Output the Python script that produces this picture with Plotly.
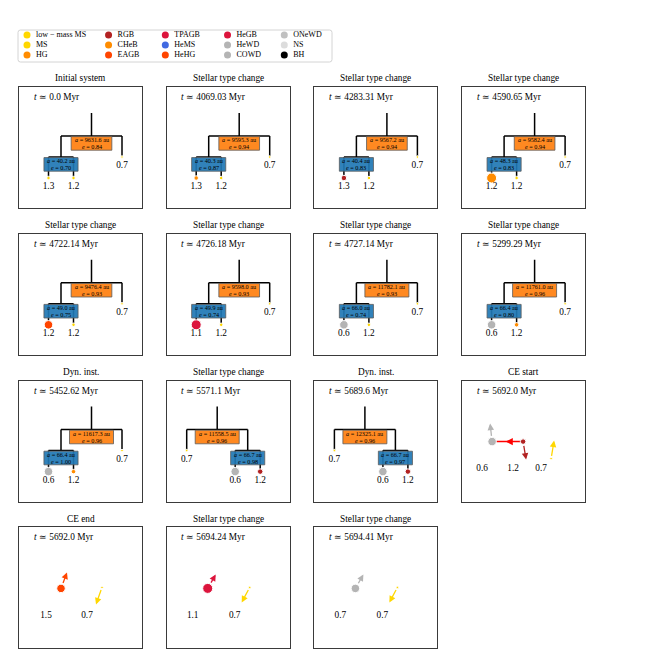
import plotly.graph_objects as go

# ---------------- data ----------------
LMS = "low − mass MS"

STELLAR_TYPES = [LMS, "MS", "HG", "RGB", "CHeB", "EAGB", "TPAGB", "HeMS",
                 "HeHG", "HeGB", "HeWD", "COWD", "ONeWD", "NS", "BH"]
TYPE_COLORS = ["#ffd700", "#ffd700", "#ff8c00", "#b22222", "#ff8c00", "#ff4500",
               "#dc143c", "#4169e1", "#ff4500", "#dc143c", "#b4b4b4", "#b4b4b4",
               "#c0c0c0", "#dcdcdc", "#000000"]

TITLES = ["Initial system", "Stellar type change", "Stellar type change", "Stellar type change",
          "Stellar type change", "Stellar type change", "Stellar type change", "Stellar type change",
          "Dyn. inst.", "Stellar type change", "Dyn. inst.", "CE start",
          "CE end", "Stellar type change", "Stellar type change"]
TIMES_MYR = [0.0, 4069.03, 4283.31, 4590.65, 4722.14, 4726.18, 4727.14, 5299.29,
             5452.62, 5571.1, 5689.6, 5692.0, 5692.0, 5694.24, 5694.41]

# hierarchical snapshots (first 11 panels)
OUTER_A = [9631.6, 9595.3, 9567.2, 9582.4, 9476.4, 9598.0, 11782.1, 11761.0, 11617.3, 11558.5, 12325.1]
OUTER_E = [0.84, 0.94, 0.94, 0.94, 0.93, 0.93, 0.93, 0.96, 0.96, 0.96, 0.96]
INNER_A = [40.2, 40.3, 40.4, 48.3, 49.0, 49.9, 66.0, 66.4, 66.4, 66.7, 66.7]
INNER_E = [0.70, 0.87, 0.83, 0.83, 0.75, 0.74, 0.74, 0.80, 1.00, 0.98, 0.97]
PRIMARY_M = [1.3, 1.3, 1.3, 1.2, 1.2, 1.1, 0.6, 0.6, 0.6, 0.6, 0.6]
PRIMARY_TYPE = ["MS", "HG", "RGB", "CHeB", "EAGB", "TPAGB", "COWD", "COWD", "COWD", "COWD", "COWD"]
SECONDARY_M = [1.2, 1.2, 1.2, 1.2, 1.2, 1.2, 1.2, 1.2, 1.2, 1.2, 1.2]
SECONDARY_TYPE = ["MS", "MS", "MS", "MS", "MS", "MS", "MS", "HG", "HG", "RGB", "RGB"]
TERTIARY_M = [0.7] * 11
TERTIARY_TYPE = [LMS] * 11
TERTIARY_LEFT = [False] * 9 + [True, True]

# unbound snapshots (last 4 panels): positions and velocity arrows
UNB_M = [[0.6, 1.2, 0.7], [1.5, 0.7], [1.1, 0.7], [0.7, 0.7]]
UNB_TYPE = [["COWD", "RGB", LMS], ["EAGB", LMS], ["TPAGB", LMS], ["COWD", LMS]]
UNB_X = [[30, 61, 89], [42, 83], [41, 83], [41, 83]]
UNB_Y = [[61, 61, 78], [61, 60], [61, 60], [61, 60]]
UNB_VX = [[-2, 3, 3], [6, -6], [8, -8], [8, -8]]
UNB_VY = [[-18, 18, -18], [-16, 17], [-14, 15], [-14, 15]]
UNB_CE_PAIR = [(0, 1), None, None, None]

# ---------------- styles / layout ----------------
FONT = "Liberation Serif"
OFF = 8            # page body margin of the browser
FIG = 642
PW, PH = 123, 121
COL0, COL_STEP = 19, 147.7
ROW0, ROW_STEP = 87, 146.8
COLOR = dict(zip(STELLAR_TYPES, TYPE_COLORS))
SIZE = {LMS: 2.5, "MS": 3.5, "HG": 4.5, "RGB": 5.5, "CHeB": 10, "EAGB": 8.5,
        "TPAGB": 10, "COWD": 8.5}
ORANGE = "rgba(255,127,14,0.92)"
BLUE = "rgba(31,119,180,0.92)"

CX = PW / 2
ROOT_SHIFT, OUTER_HALF, INNER_HALF = 11, 30.5, 12.5
Y_ROOT, Y_OUTER, Y_INNER, Y_LEAF = 26, 49, 70, 91
LABEL_GAP = 9
BOX_H, BOX_FONT, BOX_EM_PX = 13.6, 6.2, 6.6
UNB_LABEL_DX = [-10, -15, -15, -15]
UNB_LABEL_Y = 88.5

EM = {".": 0.25, " ": 0.25, "=": 0.56}


def px_x(x):
    return (x - OFF) / FIG


def px_y(y):
    return 1 - (y - OFF) / FIG


def text_em(s):
    return sum(EM.get(ch, 0.5) for ch in s)


def legend_text_px(s, size=8):
    w = 0
    for ch in s:
        if ch == " ":
            w += 0.25
        elif ch == "−":
            w += 0.56
        elif ch.isupper():
            w += 0.68
        else:
            w += 0.45
    return w * size


frame = dict(showline=True, mirror=True, linecolor="#3a3a3a", linewidth=1,
             showgrid=False, zeroline=False, showticklabels=False, ticks="")

fig = go.Figure()
annotations = []
shapes = []


def suffix(k):
    return "" if k == 0 else str(k + 1)


for k in range(15):
    r, c = divmod(k, 4)
    left = COL0 + c * COL_STEP
    top = ROW0 + r * ROW_STEP
    n = suffix(k)
    fig.update_layout(**{
        "xaxis" + n: dict(domain=[px_x(left), px_x(left + PW)], range=[0, PW],
                          anchor="y" + n, **frame),
        "yaxis" + n: dict(domain=[px_y(top + PH), px_y(top)], range=[PH, 0],
                          anchor="x" + n, **frame),
    })
    annotations.append(dict(x=px_x(left + PW / 2), y=px_y(top - 8.5), xref="paper",
                            yref="paper", xanchor="center", yanchor="middle",
                            text=TITLES[k], showarrow=False,
                            font=dict(size=9.3, color="black")))
    annotations.append(dict(x=12.5, y=10, xref="x" + n, yref="y" + n, xanchor="left",
                            text=f"<i>t</i> ≃ {TIMES_MYR[k]} Myr",
                            showarrow=False, font=dict(size=9.3, color="black")))

# ---- hierarchical triples ----
for p in range(11):
    n = suffix(p)
    xr, yr = "x" + n, "y" + n
    side = -1 if TERTIARY_LEFT[p] else 1
    rx = CX + side * ROOT_SHIFT
    ix = rx - side * OUTER_HALF
    sx = rx + side * OUTER_HALF
    l0, l1 = ix - INNER_HALF, ix + INNER_HALF
    xs = [rx, rx, None, ix, sx, None, ix, ix, None, sx, sx, None,
          l0, l1, None, l0, l0, None, l1, l1]
    ys = [Y_ROOT, Y_OUTER, None, Y_OUTER, Y_OUTER, None, Y_OUTER, Y_INNER, None,
          Y_OUTER, Y_INNER, None, Y_INNER, Y_INNER, None, Y_INNER, Y_LEAF, None,
          Y_INNER, Y_LEAF]
    fig.add_trace(go.Scatter(x=xs, y=ys, mode="lines", line=dict(color="black", width=1.5),
                             xaxis=xr, yaxis=yr, hoverinfo="skip"))
    types = [PRIMARY_TYPE[p], SECONDARY_TYPE[p], TERTIARY_TYPE[p]]
    masses = [PRIMARY_M[p], SECONDARY_M[p], TERTIARY_M[p]]
    sxs = [l0, l1, sx]
    sys_ = [Y_LEAF, Y_LEAF, Y_INNER]
    fig.add_trace(go.Scatter(x=sxs, y=sys_, mode="markers", xaxis=xr, yaxis=yr,
                             marker=dict(color=[COLOR[t] for t in types],
                                         size=[SIZE[t] for t in types], opacity=1)))
    fig.add_trace(go.Scatter(x=sxs, y=[v + LABEL_GAP for v in sys_], mode="text",
                             text=[f"{m}" for m in masses], xaxis=xr, yaxis=yr,
                             textfont=dict(size=9.3, color="black", family=FONT)))
    for nx, ny, a, e, fill in [(rx, Y_OUTER, OUTER_A[p], OUTER_E[p], ORANGE),
                               (ix, Y_INNER, INNER_A[p], INNER_E[p], BLUE)]:
        bw = text_em(f"a = {a:.1f} au") * BOX_EM_PX + 4
        top = ny + 0.6
        shapes.append(dict(type="rect", xref=xr, yref=yr, x0=nx - bw / 2, x1=nx + bw / 2,
                           y0=top, y1=top + BOX_H, fillcolor=fill, layer="above",
                           line=dict(color="#5a5a5a", width=0.8)))
        annotations.append(dict(x=nx, y=top + 3.3, xref=xr, yref=yr, showarrow=False,
                                text=f"<i>a</i> = {a:.1f} au",
                                font=dict(size=BOX_FONT, color="black")))
        annotations.append(dict(x=nx, y=top + 10.4, xref=xr, yref=yr, showarrow=False,
                                text=f"<i>e</i> = {e:.2f}",
                                font=dict(size=BOX_FONT, color="black")))

# ---- unbound stars ----
for q in range(4):
    n = suffix(11 + q)
    xr, yr = "x" + n, "y" + n
    xs, ys = UNB_X[q], UNB_Y[q]
    pair = UNB_CE_PAIR[q]
    if pair:
        a, b = pair
        fig.add_trace(go.Scatter(x=[xs[a], xs[b]], y=[ys[a], ys[b]], mode="lines",
                                 line=dict(color="#ff0000", width=1.5),
                                 xaxis=xr, yaxis=yr, hoverinfo="skip"))
        mx, my = (xs[a] + xs[b]) / 2, (ys[a] + ys[b]) / 2
        dx = xs[a] - xs[b]
        dy = ys[a] - ys[b]
        ln = (dx ** 2 + dy ** 2) ** 0.5
        annotations.append(dict(x=mx + 2 * dx / ln, y=my + 2 * dy / ln,
                                ax=mx - 2 * dx / ln, ay=my - 2 * dy / ln,
                                xref=xr, yref=yr, axref=xr, ayref=yr, text="",
                                showarrow=True, arrowhead=2, arrowsize=1.2,
                                arrowwidth=1.2, arrowcolor="#ff0000"))
    types = UNB_TYPE[q]
    fig.add_trace(go.Scatter(x=xs, y=ys, mode="markers", xaxis=xr, yaxis=yr,
                             marker=dict(color=[COLOR[t] for t in types],
                                         size=[SIZE[t] for t in types], opacity=1)))
    fig.add_trace(go.Scatter(x=[v + UNB_LABEL_DX[q] for v in xs], y=[UNB_LABEL_Y] * len(xs),
                             mode="text", text=[f"{m}" for m in UNB_M[q]],
                             xaxis=xr, yaxis=yr,
                             textfont=dict(size=9.3, color="black", family=FONT)))
    for x0, y0, vx, vy, t in zip(xs, ys, UNB_VX[q], UNB_VY[q], types):
        annotations.append(dict(x=x0 + vx, y=y0 + vy, ax=x0, ay=y0, xref=xr, yref=yr,
                                axref=xr, ayref=yr, text="", showarrow=True,
                                arrowhead=2, arrowsize=1, arrowwidth=1.3,
                                arrowcolor=COLOR[t], startstandoff=SIZE[t] / 2))

# ---- legend (manual, column-major like the reference) ----
LEG_L, LEG_T, LEG_W, LEG_H = 18, 30, 314, 32
fig.update_layout(xaxis16=dict(domain=[px_x(LEG_L - 1), px_x(LEG_L + LEG_W + 1)],
                               range=[-1, LEG_W + 1], anchor="y16", visible=False),
                  yaxis16=dict(domain=[px_y(LEG_T + LEG_H + 1), px_y(LEG_T - 1)],
                               range=[LEG_H + 1, -1], anchor="x16", visible=False))
col_x = [9]
for c in range(4):
    widest = max(legend_text_px(s) for s in STELLAR_TYPES[3 * c:3 * c + 3])
    col_x.append(col_x[-1] + 14 + widest + 21)
lx = [col_x[i // 3] for i in range(len(STELLAR_TYPES))]
ly = [5 + 10 * (i % 3) for i in range(len(STELLAR_TYPES))]
fig.add_trace(go.Scatter(x=lx, y=ly, mode="markers", xaxis="x16", yaxis="y16",
                         marker=dict(color=TYPE_COLORS, size=7, opacity=1)))
fig.add_trace(go.Scatter(x=[v + 9 for v in lx], y=ly, mode="text", text=STELLAR_TYPES,
                         textposition="middle right", xaxis="x16", yaxis="y16",
                         textfont=dict(size=8, color="black", family=FONT)))
rr = 2.5
shapes.append(dict(type="path", xref="x16", yref="y16", layer="below",
                   path=(f"M {rr},0 L {LEG_W - rr},0 Q {LEG_W},0 {LEG_W},{rr} "
                         f"L {LEG_W},{LEG_H - rr} Q {LEG_W},{LEG_H} {LEG_W - rr},{LEG_H} "
                         f"L {rr},{LEG_H} Q 0,{LEG_H} 0,{LEG_H - rr} L 0,{rr} Q 0,0 {rr},0 Z"),
                   line=dict(color="#d4d4d4", width=1), fillcolor="white"))

fig.update_layout(width=FIG, height=FIG, margin=dict(l=0, r=0, t=0, b=0),
                  paper_bgcolor="white", plot_bgcolor="white", showlegend=False,
                  font=dict(family=FONT, color="black"),
                  annotations=annotations, shapes=shapes)

fig.write_html("out.html")
